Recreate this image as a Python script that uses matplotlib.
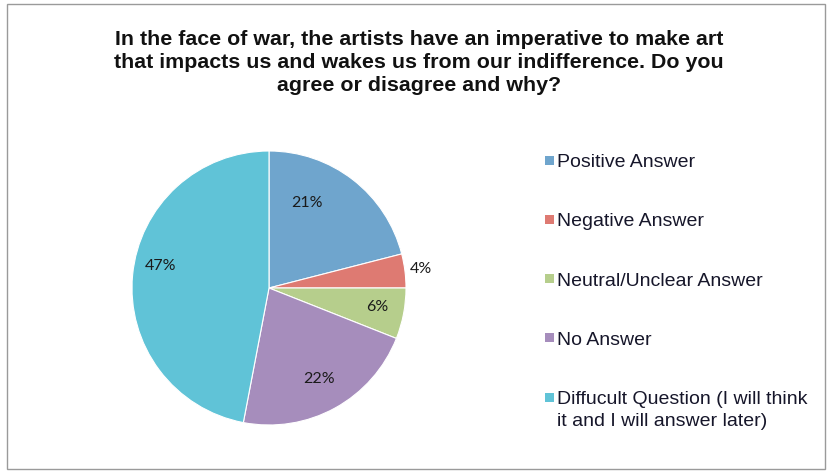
import numpy as np
import matplotlib.pyplot as plt
from matplotlib.patches import Rectangle

# ===== data =====
labels = ["Positive Answer", "Negative Answer", "Neutral/Unclear Answer",
          "No Answer", "Diffucult Question (I will think\nit and I will answer later)"]
shares = [21, 4, 6, 22, 47]
colors = ["#6FA5CD", "#DE7A72", "#B6CE8C", "#A68DBC", "#60C3D7"]
title = ("In the face of war, the artists have an imperative to make art\n"
         "that impacts us and wakes us from our indifference. Do you\n"
         "agree or disagree and why?")

# label placement (radius fraction, angle nudge in degrees)
lab_dist = [0.68, 1.12, 0.80, 0.76, 0.81]
lab_shift = [14, 0, 1, 0, -6]

W, H = 833, 473
fig = plt.figure(figsize=(W / 100, H / 100), dpi=100)
fig.patch.set_facecolor("white")

# outer frame
fig.add_artist(Rectangle((7 / W, 4 / H), 818 / W, 465 / H, transform=fig.transFigure,
                         fill=False, edgecolor="#9a9a9a", linewidth=1.0))

fig.text(419 / W, 1 - 62.5 / H, title, ha="center", va="center",
         fontsize=15.4, fontweight="bold", linespacing=1.27, color="#111111",
         family=["Liberation Sans", "DejaVu Sans"])

cx, cy, r = 269, 288, 137
ax = fig.add_axes([(cx - r) / W, (H - cy - r) / H, 2 * r / W, 2 * r / H])
wedges, _ = ax.pie(shares, colors=colors, startangle=90, counterclock=False,
                   wedgeprops=dict(edgecolor="white", linewidth=0.8))
ax.set_xlim(-1, 1)
ax.set_ylim(-1, 1)
ax.axis("off")

for w, v, d, s in zip(wedges, shares, lab_dist, lab_shift):
    ang = np.deg2rad((w.theta1 + w.theta2) / 2 + s)
    ax.text(d * np.cos(ang), d * np.sin(ang), f"{v}%", ha="center", va="center",
            fontsize=11.5, color="#1a1a1a", family=["Lato", "DejaVu Sans"])

# legend, drawn by hand so the square sits on the first line of each label
leg_x, leg_y0, leg_step = 545, 160, 59.3
for i, (lab, c) in enumerate(zip(labels, colors)):
    y = leg_y0 + i * leg_step
    fig.add_artist(Rectangle((leg_x / W, 1 - (y + 4.5) / H), 9 / W, 9 / H,
                             transform=fig.transFigure, facecolor=c, edgecolor="none"))
    fig.text(557 / W, 1 - (y - 6) / H, lab, ha="left", va="top", fontsize=14,
             linespacing=1.4, color="#16162a", family=["Liberation Sans", "DejaVu Sans"])

fig.savefig("out.png", dpi=100)
